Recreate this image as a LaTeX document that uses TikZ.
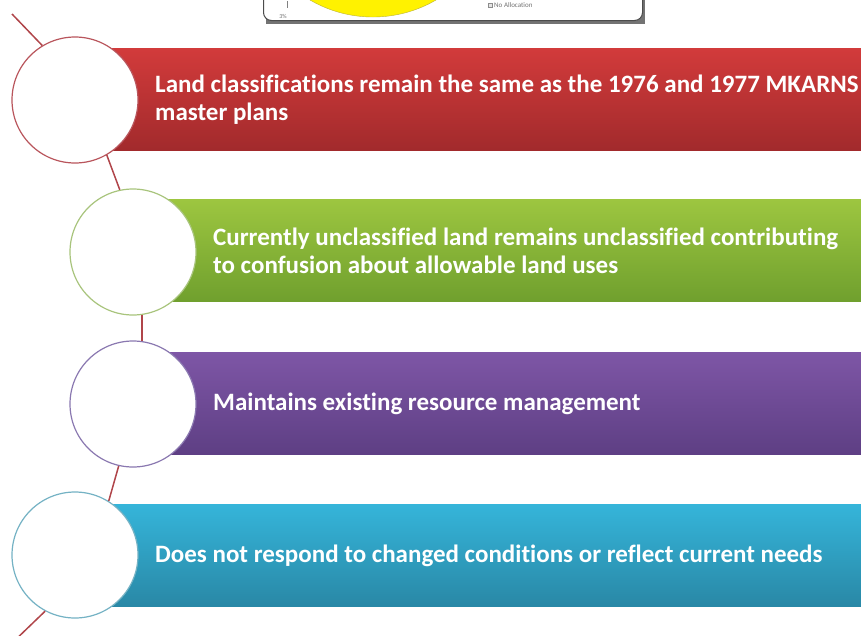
\documentclass[tikz,border=0pt]{standalone}
\usepackage{fontspec}
\setmainfont{Carlito}[Ligatures=NoCommon]
\definecolor{linered}{HTML}{B0454A}
\definecolor{redtop}{HTML}{D23B3B}
\definecolor{redbot}{HTML}{A22A2C}
\definecolor{redring}{HTML}{B9555C}
\definecolor{greentop}{HTML}{9DC640}
\definecolor{greenbot}{HTML}{70A02E}
\definecolor{greenring}{HTML}{A8C47C}
\definecolor{purpletop}{HTML}{7E56A6}
\definecolor{purplebot}{HTML}{5E3F84}
\definecolor{purplering}{HTML}{8A78B0}
\definecolor{bluetop}{HTML}{35B5DA}
\definecolor{bluebot}{HTML}{2988A6}
\definecolor{bluering}{HTML}{74B2C4}
\tikzset{
  ring/.style={circle, minimum size=126pt, inner sep=0pt, fill=white, line width=1.2pt},
  barbox/.style={rectangle, anchor=west, minimum width=820pt, minimum height=102pt, inner sep=0pt},
  txt/.style={text=white, font=\fontsize{25}{28}\selectfont\bfseries, align=left, anchor=west, inner sep=0pt},
  link/.style={draw=linered, line width=1.5pt},
  tiny/.style={text=black!55, inner sep=0pt, font=\fontsize{6}{7}\selectfont}
}
\begin{document}
\begin{tikzpicture}[x=1pt,y=-1pt]
\useasboundingbox (0,0) rectangle (861,635);
\clip (0,0) rectangle (861,635);
% chart fragment at top
\fill[black!55] (266,-20) rectangle (645,24);
\node[draw=black!70, fill=white, rounded corners=8pt, line width=1pt, minimum width=379pt, minimum height=42pt, inner sep=0pt, anchor=south west] (frame) at (263,21) {};
\begin{scope}
\clip (263,-30) rectangle (642,21);
\fill[yellow, draw=yellow!70!black, line width=0.4pt] (373,-108) circle (125);
\end{scope}
\draw[black!50, line width=0.5pt] (287,1) -- (287,8);
\node[tiny] (pct) at (283,16) {3\%};
\node[draw=black!45, fill=black!10, line width=0.4pt, minimum size=4pt, inner sep=0pt] (legbox) at (490,5) {};
\node[tiny, anchor=west, font=\fontsize{7}{8}\selectfont] (noalloc) at (494,5) {No Allocation};
% bars
\node[barbox, top color=redtop, bottom color=redbot] (b1) at (110,99) {};
\node[barbox, top color=greentop, bottom color=greenbot] (b2) at (165,250) {};
\node[barbox, top color=purpletop, bottom color=purplebot] (b3) at (165,403) {};
\node[barbox, top color=bluetop, bottom color=bluebot] (b4) at (110,555) {};
% circles
\node[ring, draw=redring] (c1) at (75,100) {};
\node[ring, draw=greenring] (c2) at (133,252) {};
\node[ring, draw=purplering] (c3) at (133,404) {};
\node[ring, draw=bluering] (c4) at (75,555) {};
% connectors
\coordinate (top) at (12,14);
\coordinate (bot) at (10,645);
\draw[link] (top) -- (c1.121);
\draw[link] (c1.-60) -- (c2.102);
\draw[link] (c2.-82) -- (c3.82);
\draw[link] (c3.-103) -- (c4.58);
\draw[link] (c4.-118) -- (bot);
% texts
\node[txt] (t1) at (155,100) {Land classifications remain the same as the 1976 and 1977 MKARNS\\master plans};
\node[txt] (t2) at (213,251) {Currently unclassified land remains unclassified contributing\\to confusion about allowable land uses};
\node[txt] (t3) at (213,404) {Maintains existing resource management};
\node[txt] (t4) at (155,556) {Does not respond to changed conditions or reflect current needs};
\end{tikzpicture}
\end{document}
